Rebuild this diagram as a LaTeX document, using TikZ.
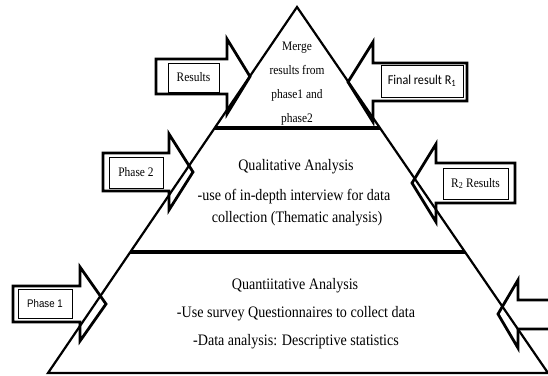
\documentclass[tikz,border=0pt]{standalone}
\usepackage{fontspec}
\setmainfont{Liberation Serif}
\newfontfamily\serifn[FakeStretch=0.88]{Liberation Serif}
\newfontfamily\calin[FakeStretch=0.9]{Carlito}
\newfontfamily\arialn[FakeStretch=0.88]{Liberation Sans}
\usetikzlibrary{calc}
\begin{document}
\begin{tikzpicture}[x=1pt,y=-1pt,
  tri/.style={line width=2.2pt, line join=miter},
  divider/.style={line width=3.2pt},
  blockarrow/.style={line width=2.8pt, line join=miter, miter limit=10},
  labelbox/.style={draw, line width=0.8pt, inner sep=0pt},
  toptext/.style={font=\serifn\fontsize{13}{24}\selectfont, align=center},
  bodytext/.style={font=\serifn\fontsize{16}{19}\selectfont, anchor=base},
  boxtext/.style={font=\serifn\fontsize{13}{15}\selectfont}]
\useasboundingbox (0,0) rectangle (548,375);
\clip (0,0) rectangle (548,375);
% pyramid
\coordinate (apex) at (297,7);
\coordinate (bl) at (48,373);
\coordinate (br) at (548,373);
\draw[tri] (bl) -- (apex) -- (br) -- cycle;
\coordinate (l1) at ($(apex)!0.3306!(bl)$);
\coordinate (r1) at ($(apex)!0.3306!(br)$);
\coordinate (l2) at ($(apex)!0.6694!(bl)$);
\coordinate (r2) at ($(apex)!0.6694!(br)$);
\draw[divider] (l1) -- (r1);
\draw[divider] (l2) -- (r2);
% block arrows
\draw[blockarrow] (250,76.5) -- (227,39) -- (227,59) -- (156,59) -- (156,94) -- (227,94) -- (227,114) -- cycle;
\draw[blockarrow] (348,82) -- (373,42) -- (373,63) -- (467,63) -- (467,101) -- (373,101) -- (373,122) -- cycle;
\draw[blockarrow] (193,172) -- (169,134) -- (169,153) -- (103,153) -- (103,191) -- (169,191) -- (169,210) -- cycle;
\draw[blockarrow] (412,183) -- (436,144) -- (436,163) -- (515,163) -- (515,203) -- (436,203) -- (436,222) -- cycle;
\draw[blockarrow] (106,304) -- (80,267) -- (80,286) -- (13,286) -- (13,322) -- (80,322) -- (80,341) -- cycle;
\draw[blockarrow] (498,314) -- (518,280) -- (518,300) -- (600,300) -- (600,329) -- (518,329) -- (518,348) -- cycle;
% label boxes
\node[labelbox, minimum width=51, minimum height=29, boxtext] (results) at (193.5,77.5) {Results};
\node[labelbox, minimum width=82, minimum height=32, font=\calin\fontsize{13.5}{15}\selectfont] (final) at (422,81) {Final result R\textsubscript{1}};
\node[labelbox, minimum width=54, minimum height=31, boxtext] (phase2) at (136,172.5) {Phase 2};
\node[labelbox, minimum width=65, minimum height=31, boxtext] (r2res) at (475.5,183.5) {R\textsubscript{2} Results};
\node[labelbox, minimum width=54, minimum height=29, font=\arialn\fontsize{11}{13}\selectfont] (phase1) at (45,303.5) {Phase 1};
% texts
\node[toptext] (merge) at (297,84) {Merge\\results from\\phase1 and\\phase2};
\node[bodytext] (qualt) at (296,170) {Qualitative Analysis};
\node[bodytext] (qual1) at (294,200) {-use of in-depth interview for data};
\node[bodytext] (qual2) at (297,222.5) {collection (Thematic analysis)};
\node[bodytext] (quant) at (295,289) {Quantiitative Analysis};
\node[bodytext] (quan1) at (296,317) {-Use survey Questionnaires to collect data};
\node[bodytext] (quan2) at (296,345) {-Data analysis: Descriptive statistics};
\end{tikzpicture}
\end{document}
